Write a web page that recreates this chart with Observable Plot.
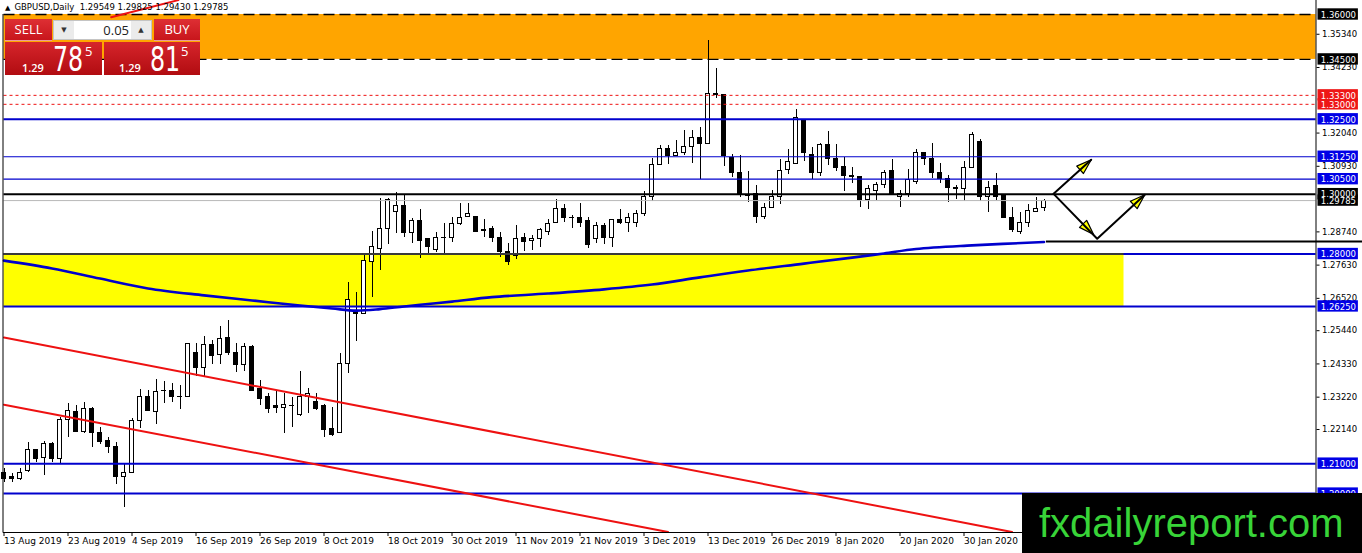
<!DOCTYPE html>
<html><head><meta charset="utf-8">
<script src="https://cdn.jsdelivr.net/npm/d3@7"></script>
<script src="https://cdn.jsdelivr.net/npm/@observablehq/plot@0.6"></script>
<style>
html,body{margin:0;padding:0;background:#fff;overflow:hidden}
#wrap{position:relative;width:1362px;height:553px;overflow:hidden;background:#fff}
#chart svg{display:block}
#title{position:absolute;left:5px;top:1px;font:8.5px "DejaVu Sans";white-space:pre;color:#000;line-height:12px}
#title .tri{font-size:7px;margin-right:4px}
.redbtn{position:absolute;top:19px;height:22px;box-sizing:border-box;background:linear-gradient(#de2f34,#c8161c);color:#fff;font:13px "Open Sans";text-align:center;line-height:21px;border-bottom:1px solid #ec9a9a}
#w-sell{left:5px;width:47px}
#w-buy{left:154px;width:46px}
#w-lot{position:absolute;left:53px;top:20px;width:99px;height:20px;box-sizing:border-box;border:1px solid #c4c4c4;background:#fff}
.gbtn{position:absolute;top:0;width:20px;height:18px;background:#ebebeb;font:7px "DejaVu Sans";color:#333;text-align:center;line-height:18px}
#w-val{position:absolute;left:21px;width:54px;top:0;height:18px;font:13px "Open Sans";color:#222;text-align:right;line-height:18px}
.redpx{position:absolute;top:42px;height:33px;background:linear-gradient(#d6252b,#b10c11);color:#fff}
#w-bid{left:5px;width:97px}
#w-ask{left:104px;width:96px}
.redpx span{position:absolute;white-space:pre;font-family:"Open Sans"}
.redpx .s{font-size:11px;font-weight:600;line-height:11px}
.redpx .b{font-family:"DejaVu Sans";font-size:33px;line-height:33px;transform:scaleX(0.72);transform-origin:0 0}
.redpx .p{font-size:13px;line-height:13px}
#wm{position:absolute;left:1022px;top:493px;width:340px;height:60px;background:#000;color:#38d438;font:40px "Liberation Sans";line-height:60px;box-sizing:border-box;padding-left:17px;white-space:pre}
</style></head><body>
<div id="wrap">
  <div id="chart"></div>
  <div id="title"></div>
  <div id="w-sell" class="redbtn">SELL</div>
  <div id="w-lot"><div class="gbtn" style="left:0">▼</div><div id="w-val"></div><div class="gbtn" style="left:77px">▲</div></div>
  <div id="w-buy" class="redbtn">BUY</div>
  <div id="w-bid" class="redpx"></div>
  <div id="w-ask" class="redpx"></div>
  <div id="wm">fxdailyreport.com</div>
</div>
<script>
// ---------------- DATA ----------------
const symbol = "GBPUSD,Daily";
const lotSize = "0.05";
const bidPrice = "1.29785";
const askPrice = "1.29815";

const opens = [1.2070,1.2054,1.2050,1.2074,1.2144,1.2120,1.2164,1.2117,1.2247,1.2274,
1.2207,1.2281,1.2201,1.2174,1.2154,1.2057,1.2070,1.2244,1.2324,1.2274,
1.2344,1.2344,1.2324,1.2324,1.2471,1.2418,1.2495,1.2464,1.2518,1.2468,
1.2428,1.2488,1.2348,1.2321,1.2291,1.2287,1.2294,1.2261,1.2321,1.2307,
1.2291,1.2214,1.2201,1.2434,1.2608,1.2601,1.2775,1.2818,1.2885,1.2942,
1.2959,1.2869,1.2912,1.2849,1.2812,1.2855,1.2855,1.2899,1.2925,1.2925,
1.2879,1.2882,1.2852,1.2808,1.2795,1.2852,1.2842,1.2849,1.2875,1.2905,
1.2952,1.2922,1.2922,1.2909,1.2849,1.2895,1.2855,1.2915,1.2905,1.2905,
1.2935,1.2989,1.3099,1.3152,1.3126,1.3139,1.3156,1.3189,1.3169,1.3336,
1.3330,1.3122,1.3072,1.2996,1.2999,1.2925,1.2955,1.2989,1.3082,1.3102,
1.3243,1.3132,1.3072,1.3163,1.3119,1.3092,1.3059,1.3056,1.2982,1.3012,
1.3029,1.3076,1.2989,1.3002,1.3042,1.3136,1.3119,1.3069,1.3052,1.3022,
1.3016,1.3086,1.3173,1.2989,1.3026,1.2996,1.2922,1.2875,1.2905,1.2942,
1.29549];
const highs = [1.2084,1.2067,1.2084,1.2171,1.2147,1.2174,1.2171,1.2254,1.2301,1.2294,
1.2304,1.2287,1.2221,1.2187,1.2171,1.2100,1.2251,1.2348,1.2344,1.2381,
1.2374,1.2368,1.2361,1.2501,1.2501,1.2525,1.2511,1.2558,1.2578,1.2501,
1.2501,1.2495,1.2378,1.2334,1.2341,1.2334,1.2321,1.2408,1.2351,1.2334,
1.2297,1.2287,1.2468,1.2705,1.2672,1.2798,1.2875,1.2985,1.2985,1.3006,
1.2996,1.2919,1.2949,1.2852,1.2872,1.2902,1.2922,1.2969,1.2969,1.2926,
1.2915,1.2892,1.2872,1.2835,1.2895,1.2869,1.2862,1.2885,1.2915,1.2982,
1.2965,1.2929,1.2969,1.2922,1.2905,1.2902,1.2915,1.2949,1.2935,1.2945,
1.3009,1.3119,1.3163,1.3163,1.3179,1.3213,1.3213,1.3223,1.3513,1.3420,
1.3331,1.3132,1.3129,1.3076,1.3029,1.2969,1.3012,1.3116,1.3149,1.3283,
1.3244,1.3156,1.3169,1.3209,1.3166,1.3122,1.3089,1.3057,1.3029,1.3039,
1.3079,1.3116,1.3012,1.3082,1.3149,1.3139,1.3169,1.3102,1.3062,1.3029,
1.3109,1.3206,1.3183,1.3042,1.3069,1.2999,1.2955,1.2939,1.2965,1.2989,
1.29825];
const lows = [1.2037,1.2037,1.2044,1.2070,1.2104,1.2060,1.2104,1.2100,1.2187,1.2204,
1.2201,1.2154,1.2164,1.2134,1.2030,1.1953,1.2070,1.2217,1.2274,1.2231,
1.2301,1.2304,1.2281,1.2321,1.2391,1.2391,1.2431,1.2431,1.2461,1.2404,
1.2408,1.2341,1.2294,1.2267,1.2267,1.2201,1.2221,1.2257,1.2267,1.2277,
1.2187,1.2191,1.2201,1.2401,1.2508,1.2601,1.2655,1.2745,1.2832,1.2869,
1.2855,1.2835,1.2785,1.2802,1.2805,1.2802,1.2839,1.2895,1.2922,1.2872,
1.2855,1.2839,1.2788,1.2762,1.2782,1.2808,1.2812,1.2822,1.2862,1.2905,
1.2905,1.2885,1.2889,1.2818,1.2835,1.2832,1.2822,1.2899,1.2872,1.2889,
1.2925,1.2975,1.3096,1.3099,1.3125,1.3129,1.3102,1.3049,1.3169,1.3319,
1.3092,1.3056,1.2989,1.2972,1.2902,1.2915,1.2955,1.2965,1.3066,1.3102,
1.3109,1.3049,1.3059,1.3096,1.3076,1.3009,1.3036,1.2955,1.2949,1.2979,
1.3019,1.2998,1.2955,1.2989,1.3032,1.3096,1.3052,1.3036,1.2972,1.2982,
1.2975,1.3086,1.2975,1.2939,1.2979,1.2919,1.2872,1.2865,1.2889,1.2941,
1.29430];
const closes = [1.2050,1.2050,1.2070,1.2144,1.2114,1.2167,1.2114,1.2247,1.2277,1.2207,
1.2281,1.2201,1.2171,1.2154,1.2057,1.2070,1.2244,1.2324,1.2277,1.2338,
1.2341,1.2324,1.2323,1.2498,1.2418,1.2495,1.2461,1.2515,1.2468,1.2428,
1.2488,1.2341,1.2317,1.2281,1.2287,1.2297,1.2293,1.2321,1.2334,1.2284,
1.2211,1.2197,1.2434,1.2645,1.2601,1.2778,1.2822,1.2885,1.2979,1.2959,
1.2869,1.2912,1.2845,1.2822,1.2855,1.2853,1.2899,1.2922,1.2935,1.2875,
1.2878,1.2852,1.2808,1.2772,1.2849,1.2839,1.2849,1.2879,1.2899,1.2952,
1.2922,1.2921,1.2905,1.2829,1.2892,1.2855,1.2915,1.2902,1.2922,1.2935,
1.2989,1.3099,1.3152,1.3129,1.3136,1.3156,1.3189,1.3166,1.3333,1.3330,
1.3126,1.3069,1.3002,1.2994,1.2925,1.2955,1.2989,1.3076,1.3106,1.3256,
1.3136,1.3072,1.3163,1.3119,1.3089,1.3059,1.3057,1.2982,1.3016,1.3032,
1.3072,1.2999,1.3002,1.3046,1.3136,1.3119,1.3069,1.3049,1.3019,1.3016,
1.3089,1.3199,1.2989,1.3022,1.2992,1.2922,1.2879,1.2905,1.2945,1.2952,
1.29785];

const xTickBars = [0,8,16,24,32,40,48,56,64,72,80,88,96,104,112,120];
const xTickLabels = ["13 Aug 2019","23 Aug 2019","4 Sep 2019","16 Sep 2019","26 Sep 2019","8 Oct 2019",
  "18 Oct 2019","30 Oct 2019","11 Nov 2019","21 Nov 2019","3 Dec 2019","13 Dec 2019",
  "26 Dec 2019","8 Jan 2020","20 Jan 2020","30 Jan 2020"];
const yTickValues = [1.3534,1.3423,1.3204,1.3093,1.2874,1.2763,1.2652,1.2544,1.2433,1.2322,1.2214];

// 200-day moving average (bar index, price)
const maBars   = [0,6,12,18,25,31,37,41,44,47,50,53,56,61,68,75,81,87,93,100,106,110,114,121,130];
const maValues = [1.2778,1.2752,1.2718,1.2685,1.2662,1.2645,1.2628,1.2618,1.2611,1.2616,1.2625,1.2633,1.2641,1.2656,1.2668,1.2682,1.2698,1.2722,1.2745,1.2768,1.2788,1.2802,1.2817,1.2829,1.2840];

// zones and levels
const orangeZone = [1.345, 1.36];
const yellowZone = [1.2625, 1.28];
const yellowZoneEndBar = 140;
const redDottedLevels = [1.333, 1.330];
const blueThickLevels = [1.325, 1.28, 1.2625, 1.21, 1.20];
const blueThinLevels = [1.3125, 1.305];
const blackLevels = [1.30];
const currentPrice = 1.29785;
const supportLevel = 1.2842;
const supportStartBar = 130.3;

// red trend channel (bar, price)
const channelUpperBars = [0, 126];
const channelUpperPrices = [1.2521, 1.1872];
const channelLowerBars = [0, 83];
const channelLowerPrices = [1.2297, 1.1872];
const topTrendBars = [13.4, 21.8];
const topTrendPrices = [1.3591, 1.3648];

// projected path arrows (bar, price)
const pathUpBars = [131.2, 135.9];
const pathUpPrices = [1.3001, 1.3115];
const pathDownBars = [131.2, 136.65, 142.6];
const pathDownPrices = [1.3001, 1.2851, 1.2998];
const arrowTipBars = [135.9, 136.2, 142.6];
const arrowTipPrices = [1.3115, 1.2865, 1.2998];

// right-axis price labels
const labelValues = [1.36, 1.345, 1.333, 1.330, 1.325, 1.3125, 1.305, 1.29785, 1.30, 1.28, 1.2625, 1.21, 1.20];
const labelKinds  = ["black","black","red","red","blue","blue","blue","black","black","blue","blue","blue","blue"];

// ---------------- LAYOUT ----------------
const W = 1362, H = 553;
const M = {left: 3.5, right: 46.5, top: 14, bottom: 21};
const xDomain = [0, 164];
const yDomain = [1.187, 1.36];
const pxPerBar = (W - M.left - M.right) / (xDomain[1] - xDomain[0]);
const pxPerPrice = (H - M.top - M.bottom) / (yDomain[1] - yDomain[0]);
const BLUE = "#0000cd", RED = "#ee1111";
const kindColor = {black: "#000000", red: "#ee1616", blue: "#0000e6"};

const candles = opens.map((o, i) => ({i, open: o, high: highs[i], low: lows[i], close: closes[i]}));
const bulls = candles.filter(d => d.close > d.open);
const bears = candles.filter(d => d.close <= d.open);

const full = p => ({p, x1: xDomain[0], x2: xDomain[1]});
const maData = maBars.map((b, k) => ({b, v: maValues[k]}));
const lineSet = (id, bars, prices) => bars.map((b, k) => ({id, b, v: prices[k]}));
const channels = [...lineSet("u", channelUpperBars, channelUpperPrices), ...lineSet("l", channelLowerBars, channelLowerPrices)];
const topTrend = lineSet("t", topTrendBars, topTrendPrices);
const paths = [...lineSet("a", pathUpBars, pathUpPrices), ...lineSet("b", pathDownBars, pathDownPrices)];
// arrowhead direction: from previous path point to tip, in screen degrees
const prevPts = [[pathUpBars[0], pathUpPrices[0]], [pathDownBars[0], pathDownPrices[0]], [pathDownBars[1], pathDownPrices[1]]];
const tips = arrowTipBars.map((b, k) => {
  const dx = (b - prevPts[k][0]) * pxPerBar;
  const dy = -(arrowTipPrices[k] - prevPts[k][1]) * pxPerPrice;
  return {b, v: arrowTipPrices[k], rot: Math.atan2(dx, -dy) * 180 / Math.PI};
});
const labels = labelValues.map((v, k) => ({v, color: kindColor[labelKinds[k]], text: v.toFixed(5)}));
const labH = 0.0019;

const spike = {draw(ctx, l, r) { ctx.moveTo(-r, 0); ctx.lineTo(0, -l); ctx.lineTo(r, 0); ctx.closePath(); }};

const chart = Plot.plot({
  width: W, height: H,
  marginLeft: M.left, marginRight: M.right, marginTop: M.top, marginBottom: M.bottom,
  x: {domain: xDomain},
  y: {domain: yDomain},
  style: {fontFamily: "DejaVu Sans", fontSize: "9px", color: "#000", background: "transparent", overflow: "visible"},
  marks: [
    // zones
    Plot.rect([{x1: xDomain[0], x2: xDomain[1], y1: orangeZone[0], y2: orangeZone[1]}], {x1: "x1", x2: "x2", y1: "y1", y2: "y2", fill: "#ffa500"}),
    Plot.rect([{x1: xDomain[0], x2: yellowZoneEndBar, y1: yellowZone[0], y2: yellowZone[1]}], {x1: "x1", x2: "x2", y1: "y1", y2: "y2", fill: "#ffff00"}),
    // candles
    Plot.ruleX(candles, {x: "i", y1: "low", y2: "high", stroke: "#000", strokeWidth: 1, shapeRendering: "crispEdges"}),
    Plot.rect(bulls, {x1: d => d.i - 0.25, x2: d => d.i + 0.25, y1: "open", y2: "close", fill: "#fff", stroke: "#000", strokeWidth: 1, shapeRendering: "crispEdges"}),
    Plot.rect(bears, {x1: d => d.i - 0.25, x2: d => d.i + 0.25, y1: "open", y2: "close", fill: "#000", stroke: "#000", strokeWidth: 1, shapeRendering: "crispEdges"}),
    // levels
    Plot.ruleY([full(currentPrice)], {y: "p", x1: "x1", x2: "x2", stroke: "#b8b8b8", strokeWidth: 1}),
    Plot.ruleY(orangeZone.map(full), {y: "p", x1: "x1", x2: "x2", stroke: "#000", strokeWidth: 1.3, strokeDasharray: "11,5"}),
    Plot.ruleY(redDottedLevels.map(full), {y: "p", x1: "x1", x2: "x2", stroke: RED, strokeWidth: 1, strokeDasharray: "3,3"}),
    Plot.ruleY(blueThinLevels.map(full), {y: "p", x1: "x1", x2: "x2", stroke: BLUE, strokeWidth: 1.2}),
    Plot.ruleY(blueThickLevels.map(full), {y: "p", x1: "x1", x2: "x2", stroke: BLUE, strokeWidth: 2}),
    Plot.ruleY([{p: yellowZone[1], x1: xDomain[0], x2: yellowZoneEndBar}], {y: "p", x1: "x1", x2: "x2", stroke: "#3a3a3a", strokeWidth: 2}),
    Plot.ruleY(blackLevels.map(full), {y: "p", x1: "x1", x2: "x2", stroke: "#000", strokeWidth: 2}),
    Plot.ruleY([{p: supportLevel, x1: supportStartBar, x2: xDomain[1] + 6}], {y: "p", x1: "x1", x2: "x2", stroke: "#000", strokeWidth: 2}),
    // moving average
    Plot.line(maData, {x: "b", y: "v", stroke: BLUE, strokeWidth: 2.6, curve: "catmull-rom"}),
    // trend channel
    Plot.line(channels, {x: "b", y: "v", z: "id", stroke: RED, strokeWidth: 2}),
    Plot.line(topTrend, {x: "b", y: "v", z: "id", stroke: RED, strokeWidth: 2}),
    // projection arrows
    Plot.vector(tips, {x: "b", y: "v", rotate: "rot", length: 15, r: 5, anchor: "end", shape: spike, fill: "#ffff00", stroke: "#000", strokeWidth: 1.2}),
    Plot.line(paths, {x: "b", y: "v", z: "id", stroke: "#000", strokeWidth: 2}),
    // frame
    Plot.ruleX([xDomain[0]], {dx: -1, stroke: "#000", strokeWidth: 1}),
    Plot.ruleX([xDomain[1]], {y1: yDomain[0], y2: yDomain[1] + 0.005, stroke: "#000", strokeWidth: 1}),
    Plot.ruleY([yDomain[0]], {x1: xDomain[0] - 0.1, x2: xDomain[1], stroke: "#000", strokeWidth: 1}),
    // axes
    Plot.axisX(xTickBars, {anchor: "bottom", tickSize: 4, tickPadding: 1, textAnchor: "start", dx: 0, fontSize: 9,
      tickFormat: d => xTickLabels[xTickBars.indexOf(d)]}),
    Plot.axisY(yTickValues, {anchor: "right", tickSize: 3, tickPadding: 3, fontSize: 8.5, tickFormat: d => d.toFixed(5)}),
    // price labels
    Plot.rect(labels, {x1: xDomain[1] + 0.25, x2: xDomain[1] + 5.3, y1: d => d.v - labH, y2: d => d.v + labH, fill: d => d.color}),
    Plot.text(labels, {x: xDomain[1] + 0.6, y: "v", text: "text", fill: "#fff", textAnchor: "start", fontSize: 8.5, dy: 0.5})
  ]
});
document.getElementById("chart").appendChild(chart);

// overlays
document.getElementById("title").innerHTML = '<span class="tri">▲</span>' + symbol + "  " +
  [opens[130], highs[130], lows[130], closes[130]].map(v => v.toFixed(5)).join(" ");
document.getElementById("w-val").textContent = lotSize;
function fillPrice(id, price, pos) {
  const big = price.slice(4, 6), small = price.slice(0, 4), pip = price.slice(6);
  document.getElementById(id).innerHTML =
    `<span class="s" style="left:${pos[0]}px;top:20px">${small}</span>` +
    `<span class="b" style="left:${pos[1]}px;top:1px">${big}</span>` +
    `<span class="p" style="left:${pos[2]}px;top:3px">${pip}</span>`;
}
fillPrice("w-bid", bidPrice, [17, 48, 80]);
fillPrice("w-ask", askPrice, [15, 46, 77]);
</script>
</body></html>
